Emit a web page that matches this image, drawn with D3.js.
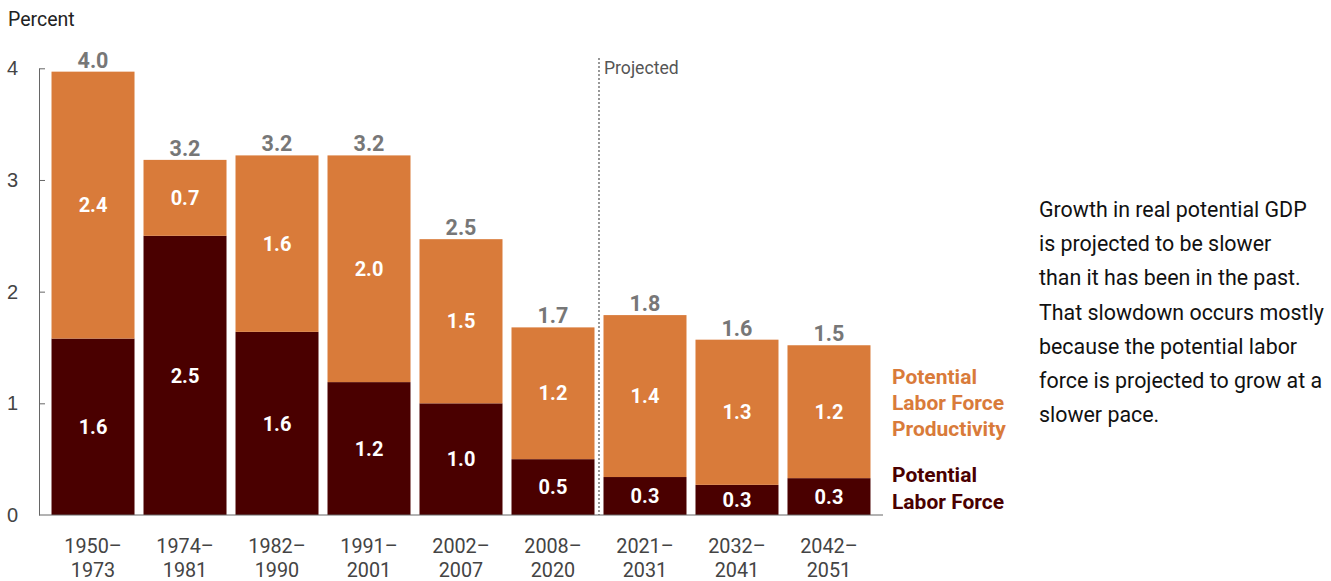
<!DOCTYPE html>
<html>
<head>
<meta charset="utf-8">
<script src="https://cdn.jsdelivr.net/npm/d3@7"></script>
<style>
  body { margin: 0; background: #fff; }
  svg { font-family: Roboto, "Noto Sans", sans-serif; }
  .axis path, .axis line { stroke: #666; }
  .axis text { fill: #444; font-size: 20px; }
</style>
</head>
<body>
<svg class="chart" width="1331" height="581"></svg>
<script>
// periods (two lines each)
let periods = ["1950–1973", "1974–1981", "1982–1990", "1991–2001", "2002–2007",
               "2008–2020", "2021–2031", "2032–2041", "2042–2051"];
// bar heights
let laborForce   = [1.58, 2.50, 1.64, 1.19, 1.00, 0.50, 0.34, 0.27, 0.33];
let productivity = [2.39, 0.68, 1.58, 2.03, 1.47, 1.18, 1.45, 1.30, 1.19];
// printed labels
let totalLabels  = ["4.0", "3.2", "3.2", "3.2", "2.5", "1.7", "1.8", "1.6", "1.5"];
let prodLabels   = ["2.4", "0.7", "1.6", "2.0", "1.5", "1.2", "1.4", "1.3", "1.2"];
let laborLabels  = ["1.6", "2.5", "1.6", "1.2", "1.0", "0.5", "0.3", "0.3", "0.3"];
let yTicks = [0, 1, 2, 3, 4];
let firstProjected = "2021–2031";
let note = ["Growth in real potential GDP", "is projected to be slower",
            "than it has been in the past.", "That slowdown occurs mostly",
            "because the potential labor", "force is projected to grow at a",
            "slower pace."];

let orange = "#d97b3a";
let maroon = "#4a0000";

let svg = d3.select("body").select(".chart");

let x = d3.scaleBand()
  .domain(periods)
  .range([39, 883])
  .paddingInner(0.0978)
  .paddingOuter(0.136);
let y = d3.scaleLinear().domain([0, 4]).range([515, 68.3]);

let rows = periods.map((p, i) => ({
  period: p, labor: laborForce[i], prod: productivity[i],
  total: laborForce[i] + productivity[i],
  tl: totalLabels[i], pl: prodLabels[i], ll: laborLabels[i]
}));

// bars
let bars = svg.append("g").attr("id", "bars");
bars.selectAll(".labor").data(rows).join("rect")
  .attr("x", d => x(d.period)).attr("width", x.bandwidth())
  .attr("y", d => y(d.labor)).attr("height", d => y(0) - y(d.labor))
  .attr("fill", maroon);
bars.selectAll(".prod").data(rows).join("rect")
  .attr("x", d => x(d.period)).attr("width", x.bandwidth())
  .attr("y", d => y(d.total)).attr("height", d => y(d.labor) - y(d.total))
  .attr("fill", orange);

// labels inside bars
let labels = svg.append("g").attr("font-weight", "bold").attr("font-size", 20)
  .attr("text-anchor", "middle");
labels.selectAll(".ll").data(rows).join("text")
  .attr("x", d => x(d.period) + x.bandwidth() / 2)
  .attr("y", d => (y(0) + y(d.labor)) / 2).attr("dy", "0.36em")
  .attr("fill", "#fff").text(d => d.ll);
labels.selectAll(".pl").data(rows).join("text")
  .attr("x", d => x(d.period) + x.bandwidth() / 2)
  .attr("y", d => (y(d.labor) + y(d.total)) / 2).attr("dy", "0.36em")
  .attr("fill", "#fff").text(d => d.pl);
labels.selectAll(".tl").data(rows).join("text")
  .attr("x", d => x(d.period) + x.bandwidth() / 2)
  .attr("y", d => y(d.total) - 4)
  .attr("fill", "#777").attr("font-size", 21.5).text(d => d.tl);

// y axis, ticks pointing inward
let yAxis = d3.axisLeft(y).tickValues(yTicks).tickFormat(d3.format("d"))
  .tickSizeInner(-6).tickSizeOuter(0).tickPadding(21);
let yGroup = svg.append("g").attr("class", "axis").attr("transform", "translate(39,0)");
yGroup.call(yAxis);
yGroup.selectAll(".tick").filter(d => d === 0).select("line").remove();

// x axis line
svg.append("line").attr("class", "axis")
  .attr("x1", 39).attr("x2", 883).attr("y1", y(0)).attr("y2", y(0))
  .attr("stroke", "#666");

// x labels on two lines
let xl = svg.append("g").attr("fill", "#444").attr("font-size", 19.8).attr("text-anchor", "middle");
xl.selectAll("text").data(periods).join("text")
  .attr("x", d => x(d) + x.bandwidth() / 2)
  .each(function(d) {
    let parts = d.split("–");
    let t = d3.select(this);
    t.append("tspan").attr("x", x(d) + x.bandwidth() / 2).attr("y", 553).text(parts[0] + "–");
    t.append("tspan").attr("x", x(d) + x.bandwidth() / 2).attr("y", 577).text(parts[1]);
  });

// projected divider
let px = x(firstProjected) - x.step() * x.paddingInner() / 2;
svg.append("line").attr("x1", px).attr("x2", px).attr("y1", 58).attr("y2", y(0))
  .attr("stroke", "#555").attr("stroke-width", 1.2).attr("stroke-dasharray", "2,2");
svg.append("text").attr("x", px + 5).attr("y", 74).attr("fill", "#555")
  .attr("font-size", 17.6).text("Projected");

// y axis title
svg.append("text").attr("x", 8).attr("y", 26).attr("fill", "#222")
  .attr("font-size", 19.5).text("Percent");

// legend
let legend = svg.append("g").attr("font-weight", "bold").attr("font-size", 21);
["Potential", "Labor Force", "Productivity"].forEach((s, i) => {
  legend.append("text").attr("x", 892).attr("y", 384 + i * 26).attr("fill", orange).text(s);
});
["Potential", "Labor Force"].forEach((s, i) => {
  legend.append("text").attr("x", 892).attr("y", 482 + i * 27).attr("fill", maroon).text(s);
});

// note
let nt = svg.append("g").attr("font-size", 21.4).attr("fill", "#111");
nt.selectAll("text").data(note).join("text")
  .attr("x", 1039).attr("y", (d, i) => 217 + i * 34.2).text(d => d);
</script>
</body>
</html>
